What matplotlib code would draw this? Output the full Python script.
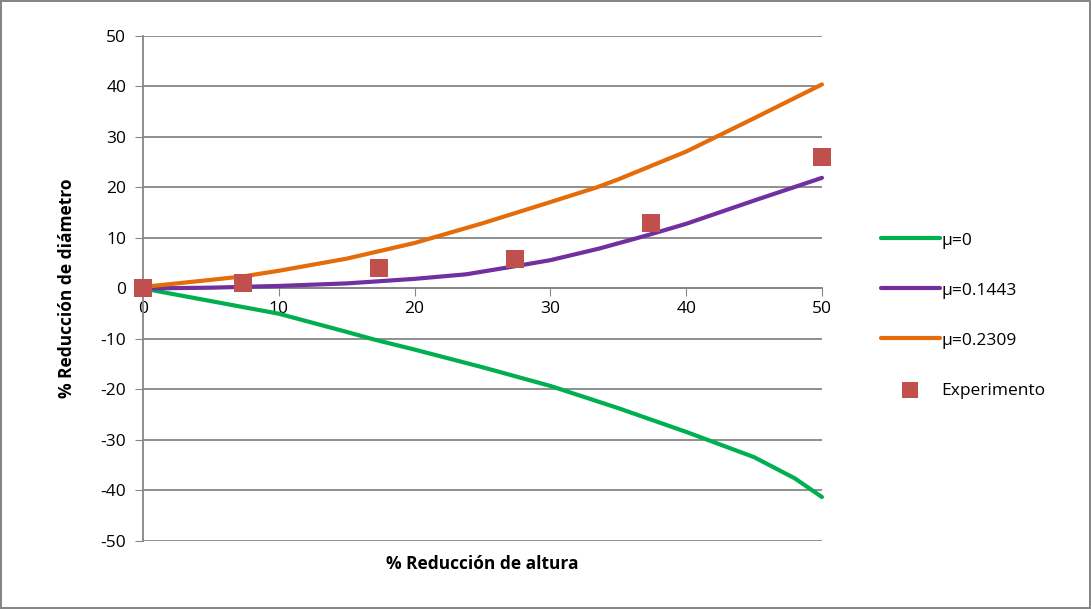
import matplotlib.pyplot as plt

# --- datos ---
x_mu0 = [0, 5, 10, 15, 17, 20, 25, 30, 35, 40, 45, 48, 50]
y_mu0 = [0, -2.5, -5.0, -8.6, -10.1, -12.1, -15.6, -19.3, -23.7, -28.4, -33.4, -37.6, -41.3]

x_mu1 = [0, 5, 10, 15, 20, 23.8, 27.4, 30, 33.6, 37.1, 40, 45, 50]
y_mu1 = [0, 0.15, 0.5, 1.0, 1.9, 2.8, 4.4, 5.6, 7.9, 10.5, 12.8, 17.4, 21.9]

x_mu2 = [0, 5, 7.4, 10, 15, 20, 25, 30, 33.4, 35, 40, 45, 50]
y_mu2 = [0.3, 1.7, 2.4, 3.5, 5.9, 9.0, 12.9, 17.1, 20.0, 21.6, 27.1, 33.7, 40.4]

x_exp = [0, 7.4, 17.4, 27.4, 37.4, 50]
y_exp = [0, 1.0, 4.0, 5.9, 13.0, 26.0]

labels = ["μ=0", "μ=0.1443", "μ=0.2309", "Experimento"]

plt.rcParams['font.family'] = ['Open Sans', 'DejaVu Sans']
plt.rcParams['axes.unicode_minus'] = False

fig = plt.figure(figsize=(10.91, 6.09), dpi=100)
fig.patch.set_edgecolor('#868686')
fig.patch.set_linewidth(1.5)
ax = fig.add_axes([0.131, 0.1117, 0.6224, 0.8293])

grid_c = '#868686'
for v in range(-50, 51, 10):
    ax.axhline(v, color=grid_c, lw=1.3, zorder=1)

l1, = ax.plot(x_mu0, y_mu0, color='#00b050', lw=3, zorder=3, solid_capstyle='round', clip_on=False)
l2, = ax.plot(x_mu1, y_mu1, color='#7030a0', lw=3, zorder=3, solid_capstyle='round', clip_on=False)
l3, = ax.plot(x_mu2, y_mu2, color='#e46c0a', lw=3, zorder=3, solid_capstyle='round', clip_on=False)
sc = ax.scatter(x_exp, y_exp, marker='s', s=150, color='#c0504d', zorder=4, linewidths=0, clip_on=False)

ax.set_xlim(0, 50)
ax.set_ylim(-50, 50)
ax.set_xticks(range(0, 51, 10))
ax.set_yticks(range(-50, 51, 10))

for s in ['top', 'right']:
    ax.spines[s].set_visible(False)
ax.spines['bottom'].set_position(('data', 0))
ax.spines['bottom'].set_color(grid_c)
ax.spines['left'].set_color(grid_c)
ax.spines['bottom'].set_linewidth(1.3)
ax.spines['left'].set_linewidth(1.3)
ax.tick_params(axis='x', direction='out', length=6, color=grid_c, labelsize=12.5, pad=3)
ax.tick_params(axis='y', direction='out', length=6, color=grid_c, labelsize=12.5, pad=6)

ax.set_xlabel("% Reducción de altura", fontsize=12.5, fontweight='bold', labelpad=0)
ax.xaxis.set_label_coords(0.5, -0.028)
ax.set_ylabel("% Reducción de diámetro", fontsize=12.5, fontweight='bold', labelpad=18)

fig.legend([l1, l2, l3, sc], labels, loc='center left', bbox_to_anchor=(0.793, 0.482),
           frameon=False, fontsize=12.5, labelspacing=1.95, handlelength=3.4,
           handletextpad=0.1, markerscale=0.9)

fig.savefig("out.png", dpi=100, edgecolor=fig.get_edgecolor())
